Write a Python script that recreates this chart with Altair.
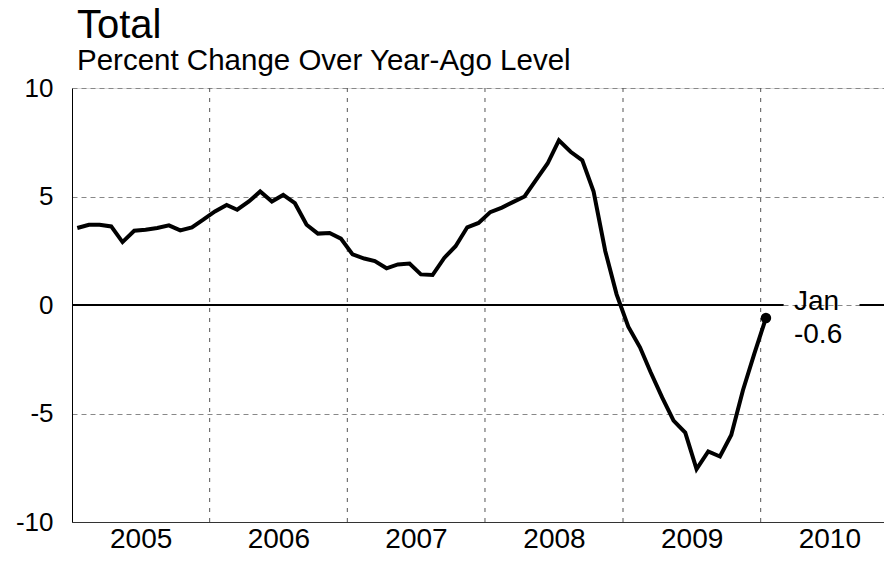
import altair as alt
import pandas as pd

FONT = "Liberation Sans"

# Monthly year-over-year percent change, Jan 2005 .. Jan 2010
start_year = 2005
values = [
    3.55, 3.70, 3.70, 3.62, 2.90, 3.42, 3.47, 3.55, 3.67, 3.44, 3.58, 3.93,
    4.31, 4.61, 4.39, 4.77, 5.23, 4.77, 5.07, 4.69, 3.70, 3.29, 3.32, 3.06,
    2.33, 2.14, 2.02, 1.69, 1.87, 1.91, 1.41, 1.38, 2.17, 2.71, 3.58, 3.78,
    4.28, 4.49, 4.74, 5.00, 5.76, 6.52, 7.59, 7.06, 6.67, 5.23, 2.48, 0.49,
    -1.00, -1.95, -3.09, -4.27, -5.33, -5.88, -7.56, -6.75, -6.98, -5.99, -3.93, -2.25,
    -0.60,
]
dates = [f"{start_year + i // 12}-{i % 12 + 1:02d}-15" for i in range(len(values))]

year_labels = [2005, 2006, 2007, 2008, 2009, 2010]
year_bounds = ["2006-01-01", "2007-01-01", "2008-01-01", "2009-01-01", "2010-01-01"]
y_ticks = [-10, -5, 0, 5, 10]

last_label_month = "Jan"
last_value = values[-1]

# zero line broken around the annotation
zero_segments = pd.DataFrame({
    "start": ["2005-01-01", "2010-09-20"],
    "end": ["2010-03-03", "2010-11-24"],
    "y": [0, 0],
})

df = pd.DataFrame({"date": dates, "value": values})
last = df.tail(1).copy()
last["zero"] = 0.0
last["lab1"] = last_label_month
last["lab2"] = f"{last_value:.1f}"

x_domain = [alt.DateTime(year=2005, month=1, date=1, utc=True),
            alt.DateTime(year=2010, month=11, date=24, utc=True)]
x_scale = alt.Scale(type="utc", domain=x_domain, nice=False)
y_scale = alt.Scale(domain=[-10, 10], nice=False)

x_axis = alt.Axis(
    values=[alt.DateTime(year=y, month=7, date=2, utc=True) for y in year_labels],
    labelExpr="utcFormat(datum.value, '%Y')", title=None, grid=False, ticks=False,
    domain=True, domainColor="#333333", domainWidth=1,
    labelFontSize=28, labelFont=FONT, labelColor="black", labelPadding=3,
    labelFlush=False, labelOverlap=False,
)
y_axis = alt.Axis(
    values=y_ticks, labelExpr="'' + datum.value", title=None, ticks=False, grid=True,
    gridColor="#888888", gridDash=[5, 4], gridWidth=1,
    domain=True, domainColor="black", domainWidth=1,
    labelFontSize=26, labelFont=FONT, labelColor="black", labelPadding=19,
)

base = alt.Chart(df)

line = base.mark_line(color="black", strokeWidth=4, strokeJoin="miter").encode(
    x=alt.X("date:T", scale=x_scale, axis=x_axis),
    y=alt.Y("value:Q", scale=y_scale, axis=y_axis),
)

vgrid = alt.Chart(pd.DataFrame({"d": year_bounds})).mark_rule(
    color="#555555", strokeDash=[4, 6], strokeWidth=1
).encode(x=alt.X("d:T", scale=x_scale))

zero = alt.Chart(zero_segments).mark_rule(color="black", strokeWidth=2).encode(
    x=alt.X("start:T", scale=x_scale),
    x2="end:T",
    y=alt.Y("y:Q", scale=y_scale),
)

dot = alt.Chart(last).mark_circle(color="black", size=110, opacity=1).encode(
    x=alt.X("date:T", scale=x_scale),
    y=alt.Y("value:Q", scale=y_scale),
)

txt1 = alt.Chart(last).mark_text(
    font=FONT, fontSize=28, color="black", align="left", baseline="alphabetic", dx=28, dy=5
).encode(x=alt.X("date:T", scale=x_scale), y=alt.Y("zero:Q", scale=y_scale), text="lab1:N")

txt2 = alt.Chart(last).mark_text(
    font=FONT, fontSize=28, color="black", align="left", baseline="alphabetic", dx=28, dy=38
).encode(x=alt.X("date:T", scale=x_scale), y=alt.Y("zero:Q", scale=y_scale), text="lab2:N")

chart = alt.layer(vgrid, zero, line, dot, txt1, txt2).properties(
    width=812,
    height=434,
    autosize=alt.AutoSizeParams(type="none"),
    padding={"left": 64, "top": 80, "right": 0, "bottom": 28},
    title=alt.TitleParams(
        text="Total",
        subtitle="Percent Change Over Year-Ago Level",
        anchor="start", frame="group", dx=5, offset=0,
        font=FONT, fontSize=40, fontWeight="normal", color="black",
        subtitleFont=FONT, subtitleFontSize=29.5, subtitleColor="black",
        subtitlePadding=1,
    ),
).configure_view(stroke=None).configure(background="white")

chart.save("out.html", embed_options={"renderer": "svg", "actions": False})
